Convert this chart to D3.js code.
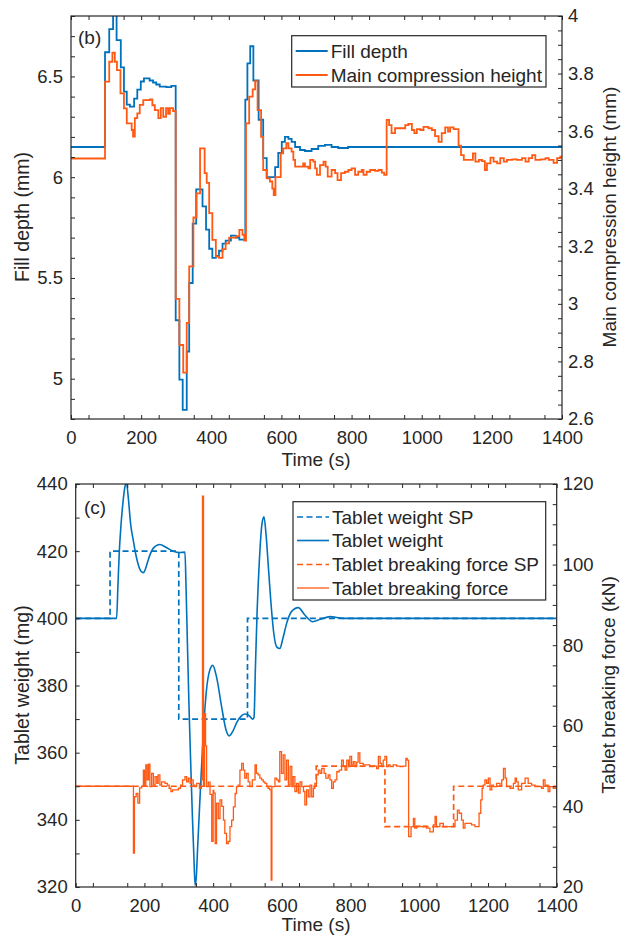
<!DOCTYPE html>
<html>
<head>
<meta charset="utf-8">
<script src="https://cdn.jsdelivr.net/npm/d3@7/dist/d3.min.js"></script>
<style>
  body { margin: 0; background: #fff; }
  text { font-family: "Liberation Sans", Arial, sans-serif; fill: #262626; }
</style>
</head>
<body>
<script>
// ---- data ----
// panel (b): [time s, value], zero-order hold
var fillDepth = [[0,6.15],[97,6.62],[109,6.735],[120,6.81],[130,6.68],[142,6.545],[151,6.425],[159,6.36],[168,6.35],[180,6.39],[189,6.435],[199,6.475],[208,6.49],[224,6.48],[234,6.47],[243,6.46],[253,6.45],[272,6.447],[286,6.453],
  [298.5,5.29],[309,4.995],[318.5,4.845],[330,5.135],[337,5.475],[347,5.77],[357,5.94],[375,5.855],[385,5.74],[394,5.645],[403,5.6],[413,5.61],[422,5.635],[432,5.67],[441,5.685],[456,5.71],[470,5.70],[480,5.69],
  [497,6.385],[503,6.565],[511,6.65],[520,6.48],[535,6.285],[548,6.095],[558,6.0],[582,6.05],[591,6.12],[601,6.175],[610,6.2],[620,6.19],[629,6.175],[639,6.15],[653,6.135],[667,6.13],[686,6.14],[705,6.155],[724,6.16],[743,6.15],[762,6.145],[790,6.15],[1400,6.15]];
var mainHeight = [[0,3.505],[97,3.772],[109,3.841],[118,3.873],[125,3.841],[131,3.812],[141,3.731],[151,3.679],[159,3.627],[173,3.604],[177,3.581],[182,3.645],[189,3.662],[196,3.691],[206,3.708],[225,3.71],[232,3.69],[239,3.673],[249,3.645],[256,3.68],[263,3.65],[271,3.68],[277,3.66],[282,3.68],[291,3.67],
  [298.5,3.017],[309,2.857],[320,2.761],[330,2.934],[337,3.13],[349,3.30],[358,3.384],[368,3.54],[381,3.454],[387,3.42],[394,3.315],[403,3.222],[413,3.164],[422,3.16],[432,3.19],[441,3.21],[451,3.23],[470,3.235],[480,3.257],[489,3.24],[494,3.22],
  [499,3.627],[508,3.72],[518,3.745],[525,3.774],[532,3.673],[542,3.58],[548,3.465],[558,3.436],[567,3.425],[574,3.40],[578,3.378],[583,3.44],[598,3.523],[605,3.54],[614,3.558],[620,3.54],[629,3.529],[634,3.50],[639,3.477],[662,3.488],[667,3.477],[677,3.471],[682,3.50],[691,3.494],[696,3.471],[701,3.448],[710,3.482],[720,3.494],[726,3.477],[732,3.442],[743,3.465],[753,3.454],[760,3.43],[770,3.454],[781,3.459],[791,3.465],[800,3.471],[810,3.448],[819,3.459],[829,3.465],[834,3.448],[843,3.459],[853,3.465],[867,3.462],[877,3.465],[886,3.456],[893,3.448],
  [900,3.639],[907,3.621],[914,3.593],[924,3.61],[953,3.621],[962,3.625],[972,3.604],[979,3.593],[986,3.607],[996,3.604],[1005,3.615],[1019,3.61],[1029,3.604],[1038,3.583],[1048,3.563],[1057,3.593],[1067,3.613],[1075,3.598],[1081,3.613],[1091,3.607],[1105,3.55],[1112,3.517],[1120,3.50],[1146,3.523],[1153,3.494],[1163,3.50],[1172,3.496],[1180,3.465],[1186,3.488],[1196,3.508],[1205,3.494],[1215,3.488],[1224,3.506],[1234,3.494],[1243,3.50],[1258,3.502],[1272,3.50],[1286,3.506],[1296,3.494],[1305,3.506],[1315,3.517],[1324,3.50],[1339,3.502],[1353,3.506],[1362,3.50],[1376,3.49],[1386,3.506],[1395,3.511],[1400,3.511]];

// panel (c)
var weightSP = [[0,400],[100,420],[300,370],[500,400],[1400,400]];
var weight = [[0,400],[119,400],[123,410],[127,420],[132,428],[138,435],[143,439],[148,440.3],[153,436],[160,428],[168,423],[175,419],[182,416],[190,414],[197,413.6],[204,415],[211,417.4],[226,420.9],[245,422],[265,421],[284,420],[303,419.6],[318,419.7],
  [321,410],[325,393],[330,373],[335,356],[340,340],[344,329],[347.5,320.5],[351,323],[355,332],[362,347],[371,365],[380,378],[390,384.5],[399,386],[410,382.5],[425,373.5],[437,367],[447,365],[458,366.5],[469,369],[483,371],[493,371.5],[505,371],[515,370],[519,370.5],
  [523,385],[528,402],[535,418],[542,428],[548,430.2],[554,425],[561,415],[568,405],[576,396],[585,391.5],[594,391],[603,394],[614,398.5],[628,402],[648,403.2],[667,401],[690,399],[712,399.7],[740,400.5],[780,400],[1400,400]];
var forceSP = [[0,45],[700,50],[900,35],[1100,45],[1400,45]];
var force = [[0,45],[166,45],[168,28.4],[171,42.4],[176,43.2],[181,40.8],[186,44.6],[192,45],[197,49],[200,45],[204,50.3],[208,46.6],[212,50.5],[216,44.9],[221,48.2],[226,45.3],[231,47.4],[236,45.7],[240,47.8],[245,45.3],[250,46.1],[260,45.7],[267,45.3],[272,44.5],[277,43.7],[282,44.1],[289,44.1],[299,44.5],[305,45.3],[311,46.6],[318,47.4],[323,46.1],[328,47],[333,45.7],[337,46.6],[342,45.3],[347,44.9],[352,45.7],[360,44.5],[366,46.6],
  [369,117],[372,45],[375,63],[378,55],[381,44.9],[386,46],[391,43],[396,31.3],[400,44],[402,43.3],[406,30.8],[410,40.8],[415,37],[420,41.6],[425,40],[430,36.6],[434,33.3],[439,30.8],[444,31.3],[449,35],[454,36.6],[459,39.9],[464,43.2],[468,44.9],[473,45.3],[478,49],[483,50.7],[488,49],[492,47],[497,48.2],[502,46.1],[507,44.9],[514,46.6],[522,50.3],[526,48.2],[531,47.8],[536,47],[541,46.6],[546,46.1],[551,45.7],[556,44.9],[560,44.5],[565,44.1],[569,21.7],[571,44.9],[580,47],[585,46.6],[590,46.1],[594,53.6],[599,48.2],[604,52.8],[609,46.6],[614,51.5],[619,45.3],[624,49.9],[629,44.9],[633,47.4],[638,43.7],[643,45.7],[648,43.3],[653,46.1],[658,44.9],[663,43.7],[667,40.4],[672,44.1],[677,42.4],[682,45.3],[687,42.4],[692,44.5],[696,45.7],
  [701,47.8],[706,49],[711,48.2],[716,49.4],[723,48.2],[728,47],[735,47.8],[740,46.6],[745,44.5],[750,46.1],[755,46.6],[760,48.6],[767,49],[774,51.5],[779,49.9],[784,49],[789,51.5],[794,49.9],[798,52.4],[803,50.3],[808,51.1],[813,49.9],[818,51],[822,53.3],[827,50.7],[837,50.3],[847,50.3],[856,49.9],[866,50],[876,49.4],[881,52.4],[886,50.7],[890,49.9],[895,51.5],[900,52.4],[905,49.9],[910,50.3],[915,49.9],[924,50.3],[934,50],[944,49.9],[953,50],[961,51.9],[965,51.5],
  [969,32.5],[976,35],[983,37],[987,34.6],[992,35.1],[1002,35],[1012,35.1],[1021,34.6],[1031,33.7],[1041,35.4],[1046,37.5],[1050,35],[1060,35.8],[1070,35],[1080,35],[1099,35],[1104,36.6],[1111,39.1],[1116,38.3],[1123,36.6],[1128,34.6],[1133,35.8],[1152,35.4],[1162,35],[1174,38.3],[1179,41.6],[1183,44.5],[1186,45.3],[1191,46.6],[1196,45.7],[1201,47],[1206,44.1],[1211,45.3],[1216,44.9],[1225,45.7],[1235,45.1],[1240,46.6],[1245,49.4],[1250,47],[1254,44.9],[1264,44.5],[1274,45.7],[1279,47],[1283,46.1],[1288,44.1],[1298,45.7],[1308,47],[1317,45.7],[1327,45.3],[1337,44.9],[1356,44.5],[1361,46.6],[1366,45.3],[1375,43.7],[1380,44.9],[1390,44.5],[1400,44.9]];

// ticks
var timeTicks = [0,200,400,600,800,1000,1200,1400];
var fillTicks = [5,5.5,6,6.5];
var heightTicks = [2.6,2.8,3,3.2,3.4,3.6,3.8,4];
var weightTicks = [320,340,360,380,400,420,440];
var forceTicks = [20,40,60,80,100,120];

var blue = "#0072BD", orange = "#FF5A14", ink = "#262626";
var fs = 18.5;

var svg = d3.select("body").append("svg").attr("width", 622).attr("height", 945);

// 框和刻度
function axes(x, yL, yR, xMinor, lMinor, rMinor, lTicks, rTicks) {
  var xr = x.range(), yr = yL.range();
  var g = svg.append("g");
  function put(axis, tr) {
    var a = g.append("g").attr("transform", tr).call(axis);
    a.select(".domain").remove();
    a.selectAll("line").attr("stroke", ink).attr("stroke-width", 1);
    a.selectAll("text").attr("fill", ink).attr("font-size", fs).attr("font-family", "Liberation Sans, Arial, sans-serif");
  }
  var fmt = function (d) { return d3.format("~g")(d); };
  put(d3.axisBottom(x).tickValues(timeTicks).tickFormat(fmt).tickSize(-4).tickPadding(12), "translate(0," + yr[0] + ")");
  put(d3.axisBottom(x).tickValues(xMinor).tickFormat("").tickSize(-4), "translate(0," + yr[0] + ")");
  put(d3.axisTop(x).tickValues(timeTicks.concat(xMinor)).tickFormat("").tickSize(-4), "translate(0," + yr[1] + ")");
  put(d3.axisLeft(yL).tickValues(lTicks).tickFormat(fmt).tickSize(-4).tickPadding(8), "translate(" + xr[0] + ",0)");
  put(d3.axisLeft(yL).tickValues(lMinor).tickFormat("").tickSize(-4), "translate(" + xr[0] + ",0)");
  put(d3.axisRight(yR).tickValues(rTicks).tickFormat(fmt).tickSize(-4).tickPadding(6), "translate(" + xr[1] + ",0)");
  put(d3.axisRight(yR).tickValues(rMinor).tickFormat("").tickSize(-4), "translate(" + xr[1] + ",0)");
  g.append("rect").attr("x", xr[0]).attr("y", yr[1]).attr("width", xr[1] - xr[0]).attr("height", yr[0] - yr[1])
    .attr("fill", "none").attr("stroke", ink).attr("stroke-width", 1.2);
}

function range(a, b, s) { var r = []; for (var i = 0; a + i * s <= b + 1e-9; i++) r.push(+(a + i * s).toFixed(3)); return r; }

function label(txt, x, y, rot, size) {
  svg.append("text").attr("transform", "translate(" + x + "," + y + ")" + (rot ? " rotate(-90)" : ""))
    .attr("text-anchor", "middle").attr("dy", "0.35em").attr("font-size", size || fs).text(txt);
}

function legend(x, y, w, h, rows, rowY) {
  var g = svg.append("g");
  g.append("rect").attr("x", x).attr("y", y).attr("width", w).attr("height", h).attr("fill", "#fff").attr("stroke", ink).attr("stroke-width", 1.2);
  rows.forEach(function (r, i) {
    g.append("line").attr("x1", x + 4).attr("x2", x + 36).attr("y1", rowY[i]).attr("y2", rowY[i])
      .attr("stroke", r.c).attr("stroke-width", r.w).attr("stroke-dasharray", r.dash || null);
    g.append("text").attr("x", x + 39).attr("y", rowY[i]).attr("dy", "0.35em").attr("font-size", 19).text(r.t);
  });
}

// ---------- (b) ----------
var xb = d3.scaleLinear().domain([0, 1400]).range([71, 562]);
var yFill = d3.scaleLinear().domain([4.8, 6.8]).range([419, 16]);
var yHeight = d3.scaleLinear().domain([2.6, 4]).range([419, 16]);

svg.append("clipPath").attr("id", "cb").append("rect").attr("x", 71).attr("y", 16).attr("width", 491).attr("height", 403);
svg.append("clipPath").attr("id", "cc").append("rect").attr("x", 75.7).attr("y", 484).attr("width", 481).attr("height", 403);

var stepB1 = d3.line().curve(d3.curveStepAfter).x(function (d) { return xb(d[0]); }).y(function (d) { return yFill(d[1]); });
var stepB2 = d3.line().curve(d3.curveStepAfter).x(function (d) { return xb(d[0]); }).y(function (d) { return yHeight(d[1]); });

svg.append("path").attr("clip-path", "url(#cb)").attr("d", stepB1(fillDepth)).attr("fill", "none").attr("stroke", blue).attr("stroke-width", 1.8);
svg.append("path").attr("clip-path", "url(#cb)").attr("d", stepB2(mainHeight)).attr("fill", "none").attr("stroke", orange).attr("stroke-width", 1.8);

axes(xb, yFill, yHeight, range(50, 1350, 100), range(4.8, 6.8, 0.1).filter(function (v) { return fillTicks.indexOf(v) < 0; }),
  range(2.6, 4, 0.05).filter(function (v) { return heightTicks.indexOf(v) < 0; }), fillTicks, heightTicks);

svg.append("text").attr("x", 78).attr("y", 37).attr("dy", "0.35em").attr("font-size", 19).text("(b)");
label("Fill depth (mm)", 22, 217, true, 19.5);
label("Main compression height (mm)", 609, 217, true, 19);
label("Time (s)", 316, 459, false, 19);
legend(291.7, 35.7, 254.3, 51.3, [
  { t: "Fill depth", c: blue, w: 1.8 },
  { t: "Main compression height", c: orange, w: 1.8 }
], [51, 75]);

// ---------- (c) ----------
var xc = d3.scaleLinear().domain([0, 1400]).range([75.7, 556.7]);
var yW = d3.scaleLinear().domain([320, 440]).range([887, 484]);
var yF = d3.scaleLinear().domain([20, 120]).range([887, 484]);

var stepW = d3.line().curve(d3.curveStepAfter).x(function (d) { return xc(d[0]); }).y(function (d) { return yW(d[1]); });
var smoothW = d3.line().curve(d3.curveMonotoneX).x(function (d) { return xc(d[0]); }).y(function (d) { return yW(d[1]); });
var stepF = d3.line().curve(d3.curveStepAfter).x(function (d) { return xc(d[0]); }).y(function (d) { return yF(d[1]); });

svg.append("path").attr("clip-path", "url(#cc)").attr("d", stepW(weightSP)).attr("fill", "none").attr("stroke", blue).attr("stroke-width", 1.7).attr("stroke-dasharray", "6,3.5");
svg.append("path").attr("clip-path", "url(#cc)").attr("d", smoothW(weight)).attr("fill", "none").attr("stroke", blue).attr("stroke-width", 1.6);
svg.append("path").attr("clip-path", "url(#cc)").attr("d", stepF(forceSP)).attr("fill", "none").attr("stroke", orange).attr("stroke-width", 1.7).attr("stroke-dasharray", "6,3.5");
svg.append("path").attr("clip-path", "url(#cc)").attr("d", stepF(force)).attr("fill", "none").attr("stroke", orange).attr("stroke-width", 1.3);

axes(xc, yW, yF, range(50, 1350, 100), range(330, 430, 20), range(25, 115, 5).filter(function (v) { return forceTicks.indexOf(v) < 0; }), weightTicks, forceTicks);

svg.append("text").attr("x", 84).attr("y", 507).attr("dy", "0.35em").attr("font-size", 19).text("(c)");
label("Tablet weight (mg)", 22, 685, true, 19.5);
label("Tablet breaking force (kN)", 608, 685, true, 19);
label("Time (s)", 316, 924, false, 19);
legend(293, 501.7, 252.7, 98.3, [
  { t: "Tablet weight SP", c: blue, w: 1.7, dash: "6,3.5" },
  { t: "Tablet weight", c: blue, w: 1.6 },
  { t: "Tablet breaking force SP", c: orange, w: 1.7, dash: "6,3.5" },
  { t: "Tablet breaking force", c: orange, w: 1.3 }
], [517, 540.5, 564.5, 588]);
</script>
</body>
</html>
